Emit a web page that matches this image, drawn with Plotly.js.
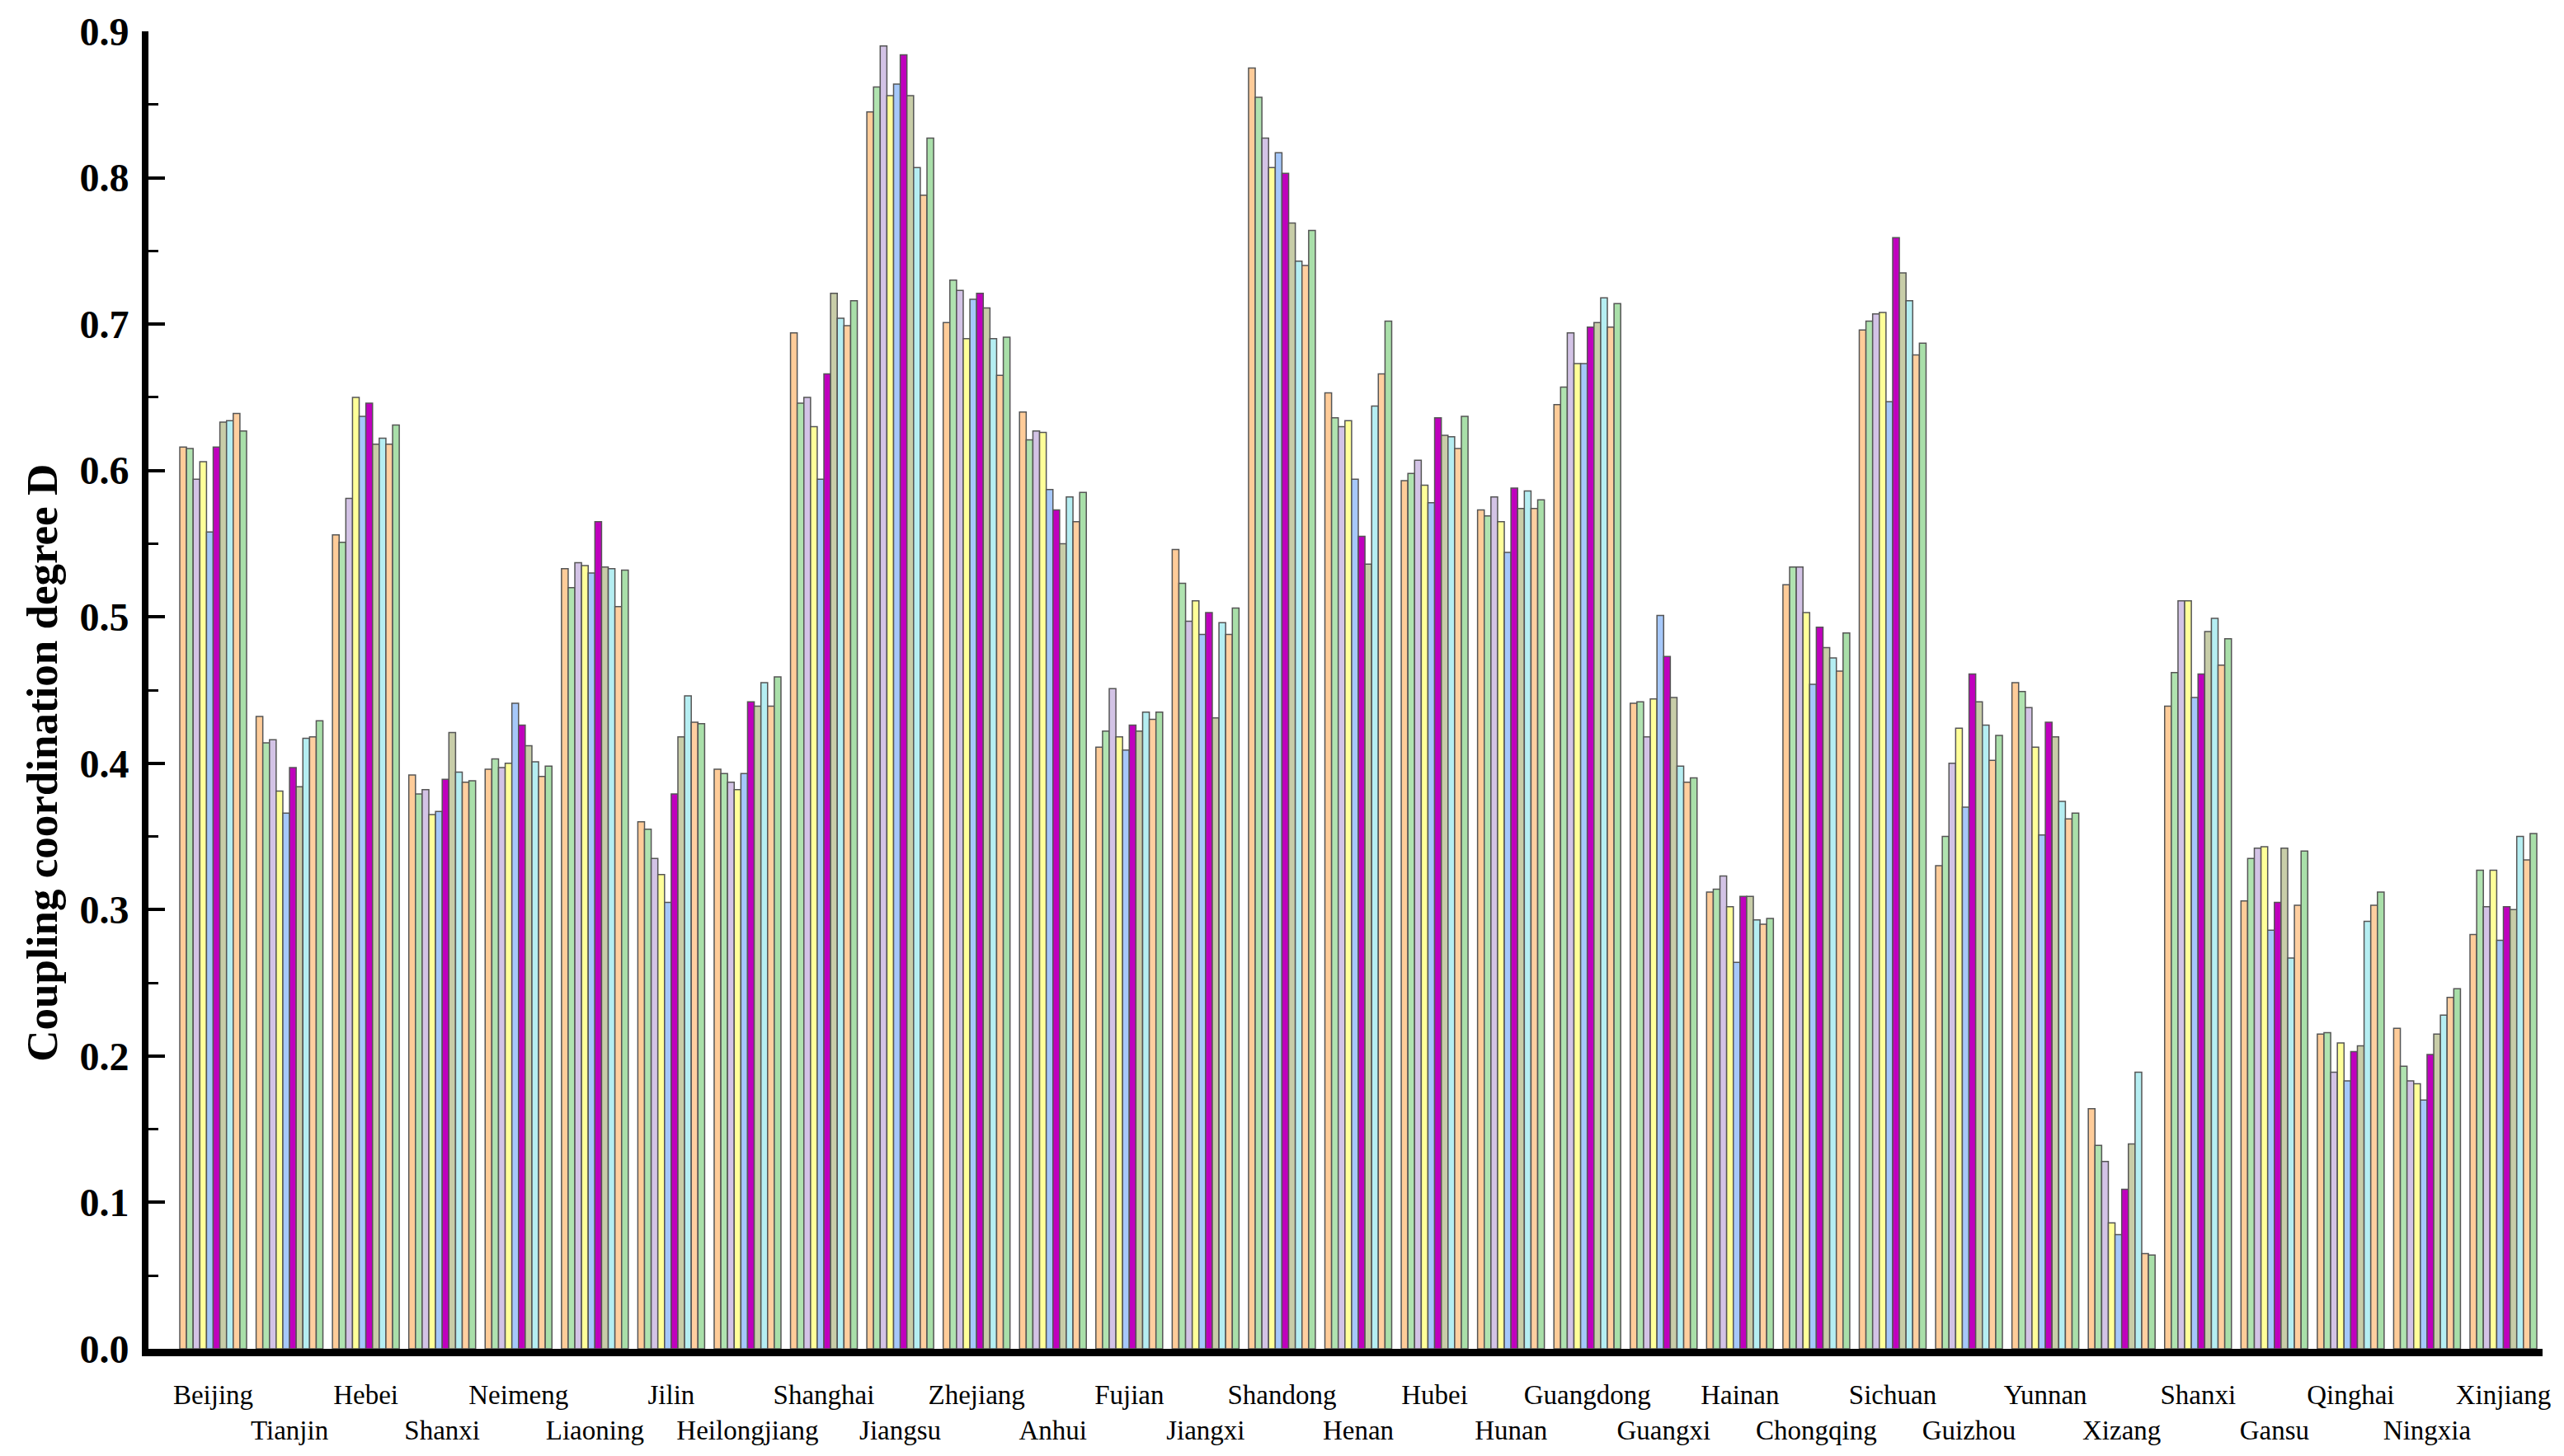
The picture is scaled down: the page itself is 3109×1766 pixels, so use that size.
<!DOCTYPE html>
<html>
<head>
<meta charset="utf-8">
<script src="https://cdn.plot.ly/plotly-3.0.1.min.js"></script>
<style>
  html, body { margin: 0; padding: 0; background: #ffffff; }
  #chart { width: 3109px; height: 1766px; }
</style>
</head>
<body>
<div id="chart"></div>
<script>
// Provinces (x categories), in drawing order
const provinces = ['Beijing','Tianjin','Hebei','Shanxi','Neimeng','Liaoning','Jilin','Heilongjiang',
  'Shanghai','Jiangsu','Zhejiang','Anhui','Fujian','Jiangxi','Shandong','Henan','Hubei','Hunan',
  'Guangdong','Guangxi','Hainan','Chongqing','Sichuan','Guizhou','Yunnan','Xizang','Shanxi',
  'Gansu','Qinghai','Ningxia','Xinjiang'];

// Coupling coordination degree D, one array per bar series (10 bars per province)
const series1  = [0.616,0.432,0.556,0.392,0.396,0.533,0.360,0.396,0.694,0.845,0.701,0.640,0.411,0.546,0.875,0.653,0.593,0.573,0.645,0.441,0.312,0.522,0.696,0.330,0.455,0.164,0.439,0.306,0.215,0.219,0.283];
const series2  = [0.615,0.414,0.551,0.379,0.403,0.520,0.355,0.393,0.646,0.862,0.730,0.621,0.422,0.523,0.855,0.636,0.598,0.569,0.657,0.442,0.314,0.534,0.702,0.350,0.449,0.139,0.462,0.335,0.216,0.193,0.327];
const series3  = [0.594,0.416,0.581,0.382,0.397,0.537,0.335,0.387,0.650,0.890,0.723,0.627,0.451,0.497,0.827,0.630,0.607,0.582,0.694,0.418,0.323,0.534,0.707,0.400,0.438,0.128,0.511,0.342,0.189,0.183,0.302];
const series4  = [0.606,0.381,0.650,0.365,0.400,0.535,0.324,0.382,0.630,0.856,0.690,0.626,0.418,0.511,0.807,0.634,0.590,0.565,0.673,0.444,0.302,0.503,0.708,0.424,0.411,0.086,0.511,0.343,0.209,0.181,0.327];
const series5  = [0.558,0.366,0.637,0.367,0.441,0.530,0.305,0.393,0.594,0.864,0.717,0.587,0.409,0.488,0.817,0.594,0.578,0.544,0.673,0.501,0.264,0.454,0.647,0.370,0.351,0.078,0.445,0.286,0.183,0.170,0.279];
const series6  = [0.616,0.397,0.646,0.389,0.426,0.565,0.379,0.442,0.666,0.884,0.721,0.573,0.426,0.503,0.803,0.555,0.636,0.588,0.698,0.473,0.309,0.493,0.759,0.461,0.428,0.109,0.461,0.305,0.203,0.201,0.302];
const series7  = [0.633,0.384,0.618,0.421,0.412,0.534,0.418,0.439,0.721,0.856,0.711,0.550,0.422,0.431,0.769,0.536,0.624,0.574,0.701,0.445,0.309,0.479,0.735,0.442,0.418,0.140,0.490,0.342,0.207,0.215,0.300];
const series8  = [0.634,0.417,0.622,0.394,0.401,0.533,0.446,0.455,0.704,0.807,0.690,0.582,0.435,0.496,0.743,0.644,0.623,0.586,0.718,0.398,0.293,0.472,0.716,0.426,0.374,0.189,0.499,0.267,0.292,0.228,0.350];
const series9  = [0.639,0.418,0.618,0.387,0.391,0.507,0.428,0.439,0.699,0.788,0.665,0.565,0.430,0.488,0.740,0.666,0.615,0.574,0.698,0.387,0.290,0.463,0.679,0.402,0.362,0.065,0.467,0.303,0.303,0.240,0.334];
const series10 = [0.627,0.429,0.631,0.388,0.398,0.532,0.427,0.459,0.716,0.827,0.691,0.585,0.435,0.506,0.764,0.702,0.637,0.580,0.714,0.390,0.294,0.489,0.687,0.419,0.366,0.064,0.485,0.340,0.312,0.246,0.352];

const seriesNames = ['Series 1','Series 2','Series 3','Series 4','Series 5','Series 6','Series 7','Series 8','Series 9','Series 10'];
const seriesColors = ['#FFCC99','#B0E3B0','#D3C3E6','#FFFF99','#A6C8FA','#C000BE','#C8CDA8','#B5EEF2','#FFCFA0','#A9DFA9'];

const allSeries = [series1,series2,series3,series4,series5,series6,series7,series8,series9,series10];
const xIdx = provinces.map((_, i) => i);

const traces = allSeries.map((vals, k) => ({
  type: 'bar',
  name: seriesNames[k],
  x: xIdx,
  y: vals,
  marker: { color: seriesColors[k], line: { color: '#555555', width: 1.5 } },
  showlegend: false,
  hoverinfo: 'y'
}));

const tickText = provinces.map((p, i) => (i % 2 === 1 ? '<br>' + p : p));

const layout = {
  width: 3109,
  height: 1766,
  paper_bgcolor: '#ffffff',
  plot_bgcolor: '#ffffff',
  margin: { l: 180, r: 26, t: 38, b: 130 },
  barmode: 'group',
  bargap: 0.125,
  bargroupgap: 0,
  showlegend: false,
  font: { family: 'Liberation Serif, Times New Roman, serif', color: '#000000' },
  xaxis: {
    range: [-0.848, 30.513],
    tickmode: 'array',
    tickvals: xIdx,
    ticktext: tickText,
    ticks: '',
    showgrid: false,
    zeroline: false,
    showline: true,
    linecolor: '#000000',
    linewidth: 9,
    tickfont: { family: 'Liberation Serif, serif', size: 33, color: '#000000' },
    ticklabelstandoff: 18,
    tickangle: 0
  },
  yaxis: {
    range: [0, 0.9],
    tickmode: 'linear',
    tick0: 0,
    dtick: 0.1,
    tickformat: '.1f',
    ticks: 'inside',
    ticklen: 20,
    tickwidth: 4,
    tickcolor: '#000000',
    minor: { dtick: 0.05, ticks: 'inside', ticklen: 12, tickwidth: 3, tickcolor: '#000000', showgrid: false },
    showgrid: false,
    zeroline: false,
    showline: true,
    linecolor: '#000000',
    linewidth: 8,
    tickfont: { family: 'Liberation Serif, serif', size: 48, color: '#000000', weight: 'bold' },
    ticklabelstandoff: 6
  },
  annotations: [{
    text: '<b>Coupling coordination degree D</b>',
    xref: 'paper', yref: 'paper',
    x: -0.0445, y: 0.445,
    xanchor: 'center', yanchor: 'middle',
    textangle: -90,
    showarrow: false,
    font: { family: 'Liberation Serif, serif', size: 53, color: '#000000' }
  }]
};

Plotly.newPlot('chart', traces, layout, { staticPlot: true, displayModeBar: false });
</script>
</body>
</html>
